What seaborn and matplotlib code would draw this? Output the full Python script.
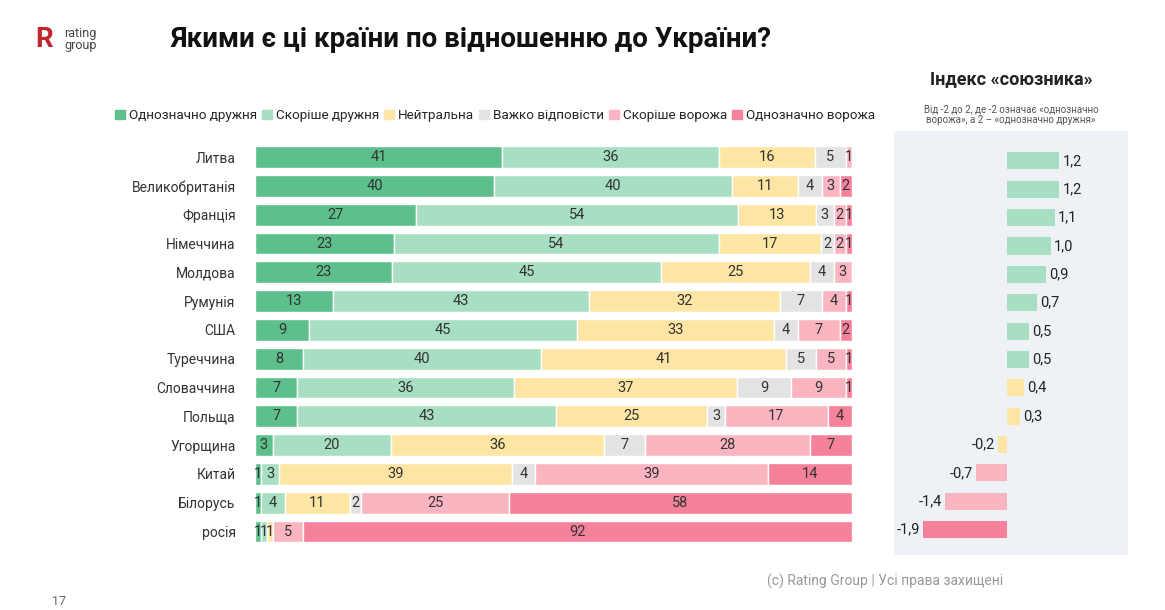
import numpy as np
import pandas as pd
import seaborn as sns
import matplotlib.pyplot as plt
from matplotlib.patches import Rectangle

countries = ['Литва', 'Великобританія', 'Франція', 'Німеччина', 'Молдова', 'Румунія', 'США',
             'Туреччина', 'Словаччина', 'Польща', 'Угорщина', 'Китай', 'Білорусь', 'росія']
categories = ['Однозначно дружня', 'Скоріше дружня', 'Нейтральна', 'Важко відповісти',
              'Скоріше ворожа', 'Однозначно ворожа']
very_friendly = [41, 40, 27, 23, 23, 13, 9, 8, 7, 7, 3, 1, 1, 1]
rather_friendly = [36, 40, 54, 54, 45, 43, 45, 40, 36, 43, 20, 3, 4, 1]
neutral = [16, 11, 13, 17, 25, 32, 33, 41, 37, 25, 36, 39, 11, 1]
hard_to_say = [5, 4, 3, 2, 4, 7, 4, 5, 9, 3, 7, 4, 2, 0]
rather_hostile = [1, 3, 2, 2, 3, 4, 7, 5, 9, 17, 28, 39, 25, 5]
very_hostile = [0, 2, 1, 1, 0, 1, 2, 1, 1, 4, 7, 14, 58, 92]
ally_index = [1.2, 1.2, 1.1, 1.0, 0.9, 0.7, 0.5, 0.5, 0.4, 0.3, -0.2, -0.7, -1.4, -1.9]

colors = ['#5dbf8b', '#a8dfc3', '#fde5a4', '#e3e3e3', '#fbb5c0', '#f6819a']

sns.set_theme(style='white')
plt.rcParams['font.family'] = ['Roboto', 'DejaVu Sans']

fig = plt.figure(figsize=(11.65, 6.1), dpi=100)
ax = fig.add_axes([0.219, 0.105, 0.512, 0.661])

series = [very_friendly, rather_friendly, neutral, hard_to_say, rather_hostile, very_hostile]
data = np.array(series, dtype=float)
totals = data.sum(axis=0)
y = np.arange(len(countries))
left = np.zeros(len(countries))
for vals, col in zip(data, colors):
    w = vals / totals * 100
    ax.barh(y, w, left=left, color=col, height=0.76)
    for i, (v, l, ww) in enumerate(zip(vals, left, w)):
        if v > 0:
            ax.text(l + ww / 2, i, f'{int(v)}', ha='center', va='center', fontsize=10.5, color='#333333')
    left += w
ax.set_xlim(0, 100)
ax.set_ylim(len(countries) - 0.5, -0.5)
ax.set_yticks(y)
ax.set_yticklabels(countries, fontsize=10, color='#333333')
ax.tick_params(axis='y', length=0, pad=14)
ax.set_xticks([])
sns.despine(ax=ax, left=True, bottom=True)

# legend
handles = [Rectangle((0, 0), 1, 1, color=c) for c in colors]
fig.legend(handles, categories, loc='center', bbox_to_anchor=(0.425, 0.81), ncol=6,
           frameon=False, fontsize=9.7, handlelength=0.7, handleheight=0.7,
           handletextpad=0.3, columnspacing=0.4)

# index panel
ax2 = fig.add_axes([0.767, 0.09, 0.201, 0.695])
ax2.set_facecolor('#eef2f7')
idx = pd.DataFrame({'country': countries, 'index': ally_index})
idx_colors = []
for v in ally_index:
    if v >= 0.5:
        idx_colors.append(colors[1])
    elif v >= -0.5:
        idx_colors.append(colors[2])
    elif v > -1.5:
        idx_colors.append(colors[4])
    else:
        idx_colors.append(colors[5])
sns.barplot(data=idx, x='index', y='country', hue='country', palette=idx_colors,
            legend=False, ax=ax2, width=0.6, orient='h', saturation=1, linewidth=0)
for i, v in enumerate(ally_index):
    txt = f'{v:.1f}'.replace('.', ',')
    if v >= 0:
        ax2.text(v + 0.07, i, txt, ha='left', va='center', fontsize=10.5, color='#222222')
    else:
        ax2.text(v - 0.07, i, txt, ha='right', va='center', fontsize=10.5, color='#222222')
ax2.set_xlim(-2.57, 2.75)
ax2.set_ylim(len(countries) - 0.5 + 0.4, -0.5 - 0.55)
ax2.set_xticks([])
ax2.set_yticks([])
ax2.set_xlabel('')
ax2.set_ylabel('')
for s in ax2.spines.values():
    s.set_visible(False)

fig.text(0.146, 0.935, 'Якими є ці країни по відношенню до України?', fontsize=20,
         fontweight='bold', va='center', color='#111111')
fig.text(0.868, 0.862, 'Індекс «союзника»', fontsize=13, fontweight='bold', ha='center', color='#222222')
fig.text(0.868, 0.812, 'Від -2 до 2, де -2 означає «однозначно\nворожа», а 2 – «однозначно дружня»',
         fontsize=7, ha='center', va='center', color='#555555')
fig.text(0.03, 0.935, 'R', fontsize=20, fontweight='bold', color='#c0262d', va='center')
fig.text(0.055, 0.935, 'rating\ngroup', fontsize=9, color='#444444', va='center', linespacing=0.9)
fig.text(0.76, 0.04, '(c) Rating Group | Усі права захищені', fontsize=10, color='#999999', ha='center')
fig.text(0.045, 0.008, '17', fontsize=9, color='#666666')

fig.savefig('out.png', dpi=100)
